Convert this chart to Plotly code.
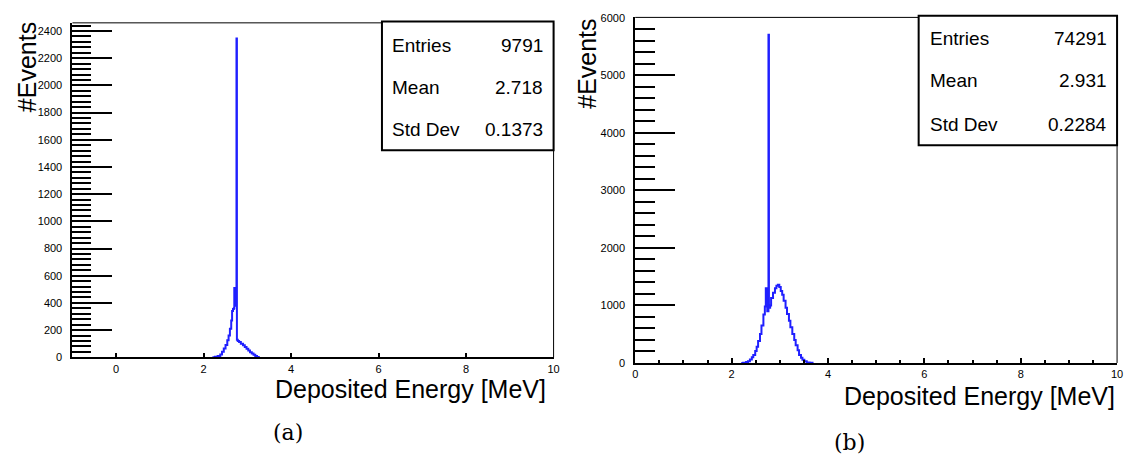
import plotly.graph_objects as go

W, H = 1131, 461

# ---------------- data ----------------
# panel (a): bin left edges [MeV] and counts
a_edges = [2.20, 2.26, 2.32, 2.38, 2.42, 2.46, 2.50, 2.54, 2.57, 2.60, 2.63, 2.65,
           2.67, 2.69, 2.70, 2.72, 2.74, 2.75, 2.76, 2.78, 2.81, 2.85, 2.90, 2.94,
           2.98, 3.02, 3.06, 3.10, 3.14, 3.18, 3.22, 3.26]
a_counts = [0, 5, 10, 20, 40, 65, 90, 125, 160, 210, 270, 340,
            355, 360, 510, 400, 380, 2345, 130, 120, 112, 100, 88, 75,
            63, 50, 38, 28, 18, 9, 3, 0]

# panel (b): bin left edges [MeV] and counts
b_edges = [2.20, 2.24, 2.30, 2.34, 2.38, 2.42, 2.45, 2.49, 2.52, 2.55, 2.59, 2.62,
           2.66, 2.69, 2.71, 2.73, 2.74, 2.765, 2.775, 2.80, 2.82, 2.86, 2.90, 2.93,
           2.96, 2.99, 3.02, 3.05, 3.08, 3.12, 3.15, 3.19, 3.22, 3.26, 3.30, 3.33,
           3.37, 3.40, 3.44, 3.47, 3.51, 3.56, 3.62, 3.68]
b_counts = [0, 5, 15, 30, 60, 100, 140, 210, 280, 380, 505, 650,
            845, 980, 1300, 1000, 900, 5710, 960, 1000, 1130, 1220, 1300, 1345,
            1360, 1320, 1250, 1185, 1080, 960, 850, 735, 620, 505, 400, 310,
            220, 140, 90, 55, 30, 10, 3, 0]

stat_names = ["Entries", "Mean", "Std Dev"]
a_stat_values = ["9791", "2.718", "0.1373"]
b_stat_values = ["74291", "2.931", "0.2284"]

a_xticks = [0, 2, 4, 6, 8, 10]
b_xticks = [0, 2, 4, 6, 8, 10]

x_title = "Deposited Energy [MeV]"
y_title = "#Events"
captions = ["(a)", "(b)"]

# ---------------- layout helpers ----------------
def px(x):
    return x / W

def py(y):
    return 1 - y / H

# panel geometry (window pixels)
A = dict(x0=70, x1=555, y0=17.3, y1=360.7)
B = dict(x0=637.3, x1=1123, y0=11.7, y1=366.5)

BLUE = "#1f1fff"
SANS = "Liberation Sans, Arial, sans-serif"
TICKFONT = dict(family=SANS, size=11, color="black")
BIGFONT = dict(family=SANS, size=25, color="black")
STATFONT = dict(family=SANS, size=19, color="black")

fig = go.Figure()
fig.add_trace(go.Scatter(x=a_edges, y=a_counts, mode="lines", line_shape="hv",
                         line=dict(color=BLUE, width=2), xaxis="x", yaxis="y",
                         showlegend=False, hoverinfo="skip"))
fig.add_trace(go.Scatter(x=b_edges, y=b_counts, mode="lines", line_shape="hv",
                         line=dict(color=BLUE, width=2), xaxis="x2", yaxis="y2",
                         showlegend=False, hoverinfo="skip"))

common_x = dict(showgrid=False, zeroline=False, showline=True, linecolor="black",
                linewidth=2, ticks="inside", tickcolor="black", tickwidth=1.5,
                tickfont=TICKFONT, ticklabelstandoff=0, ticklabeloverflow="allow")
common_y = dict(showgrid=False, zeroline=False, showline=True, linecolor="black",
                linewidth=2, ticks="inside", tickcolor="black", tickwidth=2,
                ticklen=40, tickfont=TICKFONT, tickformat="d", ticklabelstandoff=6,
                ticklabeloverflow="allow")

fig.update_layout(
    width=W, height=H, margin=dict(l=0, r=0, t=0, b=0),
    paper_bgcolor="white", plot_bgcolor="white", showlegend=False,
    xaxis=dict(domain=[px(A["x0"]), px(A["x1"])], range=[-1, 10], anchor="y",
               tickvals=a_xticks, ticklen=4, **common_x),
    yaxis=dict(domain=[py(A["y1"]), py(A["y0"])], range=[0, 2460], anchor="x",
               dtick=200, tick0=0,
               minor=dict(dtick=40, tick0=0, ticklen=19, tickwidth=2,
                          ticks="inside", tickcolor="black"),
               **common_y),
    xaxis2=dict(domain=[px(B["x0"]), px(B["x1"])], range=[0, 10], anchor="y2",
                tickvals=b_xticks, ticklen=5,
                minor=dict(dtick=0.5, tick0=0, ticklen=3, ticks="inside",
                           tickcolor="black", tickwidth=1.5),
                **common_x),
    yaxis2=dict(domain=[py(B["y1"]), py(B["y0"])], range=[0, 6010], anchor="x2",
                dtick=1000, tick0=0,
                minor=dict(dtick=200, tick0=0, ticklen=20, tickwidth=2,
                           ticks="inside", tickcolor="black"),
                **common_y),
)

shapes = []
annotations = []
for P in (A, B):
    # thin top and right frame lines
    shapes.append(dict(type="line", xref="paper", yref="paper",
                       x0=px(P["x0"]), x1=px(P["x1"]), y0=py(P["y0"]), y1=py(P["y0"]),
                       line=dict(color="black", width=1)))
    shapes.append(dict(type="line", xref="paper", yref="paper",
                       x0=px(P["x1"]), x1=px(P["x1"]), y0=py(P["y0"]), y1=py(P["y1"]),
                       line=dict(color="black", width=1)))

# stats boxes
boxes = [
    dict(x0=382, x1=555, y0=16, y1=148, lx=390, rx=546, rows=[41, 84, 127], vals=a_stat_values),
    dict(x0=923, x1=1123, y0=10, y1=143, lx=932, rx=1115, rows=[33, 77, 122], vals=b_stat_values),
]
for bx in boxes:
    shapes.append(dict(type="rect", xref="paper", yref="paper",
                       x0=px(bx["x0"]), x1=px(bx["x1"]), y0=py(bx["y1"]), y1=py(bx["y0"]),
                       line=dict(color="black", width=2), fillcolor="white", layer="above"))
    for name, val, ry in zip(stat_names, bx["vals"], bx["rows"]):
        annotations.append(dict(text=name, x=px(bx["lx"]), y=py(ry), xref="paper", yref="paper",
                                xanchor="left", yanchor="middle", showarrow=False, font=STATFONT))
        annotations.append(dict(text=val, x=px(bx["rx"]), y=py(ry), xref="paper", yref="paper",
                                xanchor="right", yanchor="middle", showarrow=False, font=STATFONT))

# axis titles
for (xr, yc) in ((549, 393), (1123, 400)):
    annotations.append(dict(text=x_title, x=px(xr), y=py(yc), xref="paper", yref="paper",
                            xanchor="right", yanchor="middle", showarrow=False, font=BIGFONT))
for (xc, yc) in ((25, 63), (589, 59)):
    annotations.append(dict(text=y_title, x=px(xc), y=py(yc), xref="paper", yref="paper",
                            xanchor="center", yanchor="middle", textangle=-90,
                            showarrow=False, font=BIGFONT))

# captions
for cap, (xc, yc) in zip(captions, ((287, 438), (853, 448))):
    annotations.append(dict(text=cap, x=px(xc), y=py(yc), xref="paper", yref="paper",
                            xanchor="center", yanchor="middle", showarrow=False,
                            font=dict(family="DejaVu Serif, serif", size=22, color="black")))

fig.update_layout(shapes=shapes, annotations=annotations)
fig.write_html("out.html",
               config={"displayModeBar": False},
               post_script="document.body.style.margin='0';"
                           "document.body.style.overflow='hidden';")
